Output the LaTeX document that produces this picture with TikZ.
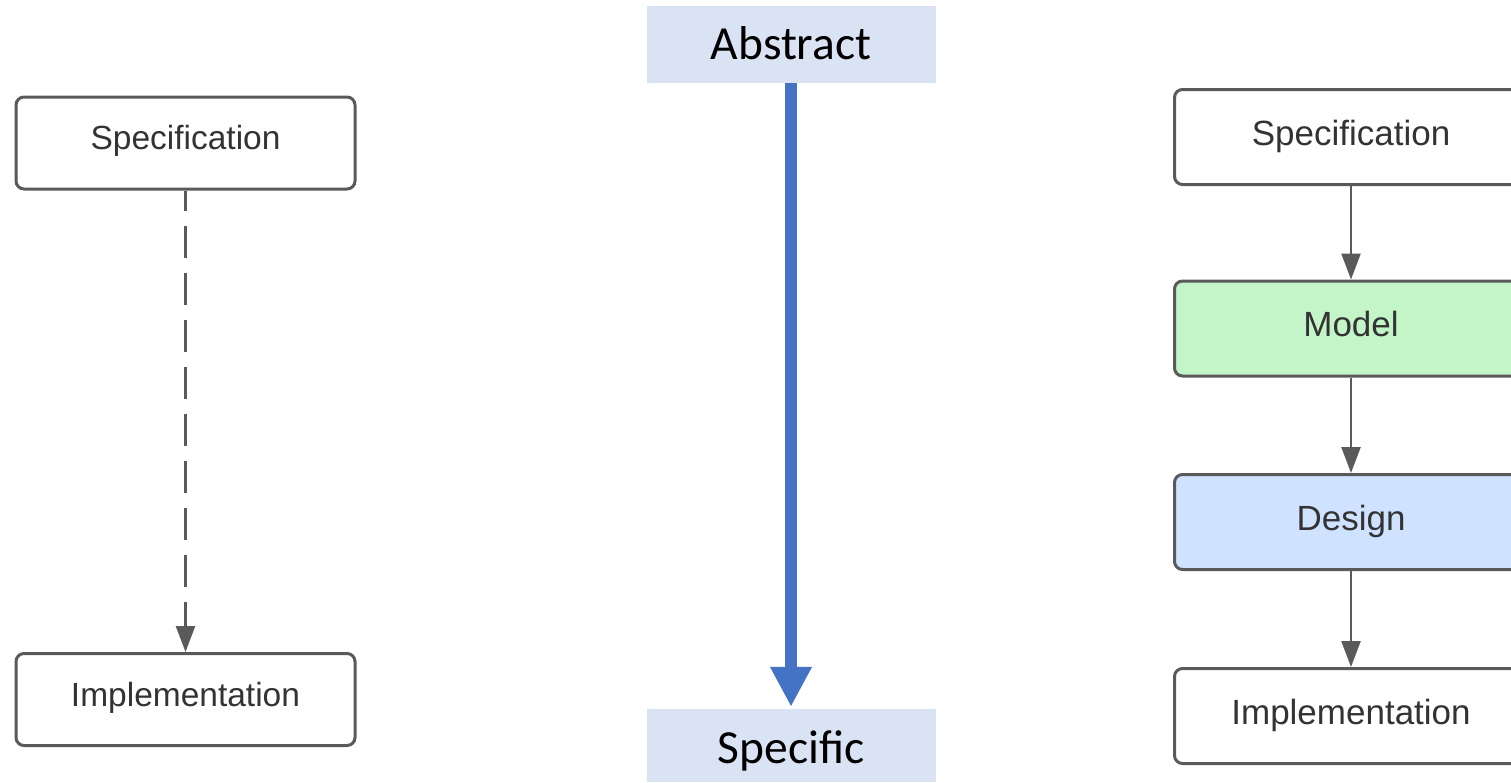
\documentclass[tikz,border=0pt]{standalone}
\usepackage{fontspec}
\setmainfont{Liberation Sans}
\newfontfamily\calib{Carlito}
\usetikzlibrary{arrows.meta}

\definecolor{edgegray}{HTML}{5A5A5A}
\definecolor{txtgray}{HTML}{333333}
\definecolor{modelgreen}{HTML}{C3F5C8}
\definecolor{designblue}{HTML}{CFE2FF}
\definecolor{levelfill}{HTML}{DAE3F3}
\definecolor{flowblue}{HTML}{4472C4}

\tikzset{
  flowbox/.style={draw=edgegray, line width=3pt, rounded corners=8pt,
    fill=white, text=txtgray, inner sep=0pt},
  leftbox/.style={flowbox, minimum width=339pt, minimum height=92pt,
    font=\fontsize{33.5}{40}\selectfont, text height=24pt, text depth=11pt},
  rightbox/.style={flowbox, minimum width=353pt, minimum height=95pt,
    font=\fontsize{35}{42}\selectfont, text height=25pt, text depth=9pt},
  levelbox/.style={fill=levelfill, draw=none, inner sep=0pt,
    minimum width=289pt, text=black, font=\calib\fontsize{47.5}{56}\selectfont},
  flowarrow/.style={draw=edgegray, line width=2.5pt,
    -{Triangle[length=26pt,width=19pt]}},
  dashedarrow/.style={flowarrow, dash pattern=on 32pt off 15pt, dash phase=12pt},
  bigarrow/.style={draw=flowblue, line width=12pt,
    -{Triangle[length=40pt,width=39pt]}, shorten >=2pt}
}

\begin{document}
\begin{tikzpicture}[x=1pt, y=-1pt]
  \useasboundingbox (0,0) rectangle (1511,782);
  \clip (0,0) rectangle (1511,782);

  % direct path: specification straight to implementation
  \node[leftbox] (lspec) at (185.5,143) {Specification};
  \node[leftbox] (limpl) at (185.5,699.5) {Implementation};
  \draw[dashedarrow] (lspec.south) -- (limpl.north);

  % abstraction scale in the middle
  \node[levelbox, minimum height=77pt, text height=30.6pt, text depth=0pt]
    (abstract) at (791,44.5) {Abstract};
  \node[levelbox, minimum height=73pt, text height=35.6pt, text depth=0pt]
    (specific) at (791,745.5) {Specific};
  \draw[bigarrow] (abstract.south) -- (specific.north);

  % refined path through model and design
  \node[rightbox] (rspec) at (1351,137) {Specification};
  \node[rightbox, fill=modelgreen] (model) at (1351,328.5) {Model};
  \node[rightbox, fill=designblue] (design) at (1351,522) {Design};
  \node[rightbox] (rimpl) at (1351,716) {Implementation};
  \draw[flowarrow] (rspec.south) -- (model.north);
  \draw[flowarrow] (model.south) -- (design.north);
  \draw[flowarrow] (design.south) -- (rimpl.north);
\end{tikzpicture}
\end{document}
